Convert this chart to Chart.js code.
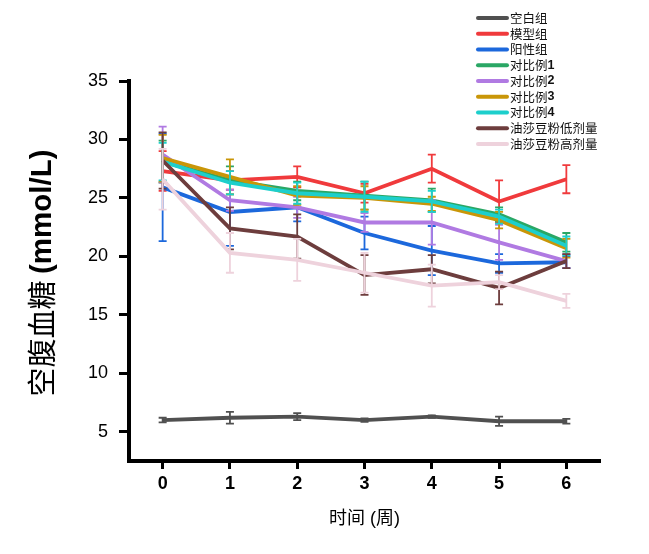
<!DOCTYPE html>
<html>
<head>
<meta charset="utf-8">
<script src="https://cdn.jsdelivr.net/npm/chart.js@4.4.1/dist/chart.umd.min.js"></script>
<style>
  html, body { margin: 0; padding: 0; background: #fff; }
  canvas { display: block; }
</style>
</head>
<body>
<canvas id="glucoseChart" width="649" height="554"></canvas>
<script>
// weeks and tick values
const weeks = [0, 1, 2, 3, 4, 5, 6];
const yTicks = [5, 10, 15, 20, 25, 30, 35];

const groupNames = ['空白组', '模型组', '阳性组', '对比例1', '对比例2', '对比例3', '对比例4', '油莎豆粉低剂量', '油莎豆粉高剂量'];
const groupColors = ['#505050', '#f03a3c', '#1c68dc', '#2aa765', '#b07ae2', '#c99608', '#1dcfcc', '#6d3d3d', '#eed2dc'];

// mean values per group (mmol/L)
const blank = [6.0, 6.2, 6.3, 6.0, 6.3, 5.9, 5.9];
const model = [27.3, 26.5, 26.8, 25.4, 27.5, 24.7, 26.6];
const positive = [25.9, 23.8, 24.2, 22.0, 20.5, 19.4, 19.5];
const comp1 = [28.1, 26.5, 25.6, 25.2, 24.8, 23.6, 21.2];
const comp2 = [28.7, 24.8, 24.2, 22.9, 22.9, 21.2, 19.6];
const comp3 = [28.4, 26.8, 25.2, 25.0, 24.5, 23.1, 20.7];
const comp4 = [28.1, 26.3, 25.4, 25.1, 24.7, 23.4, 20.9];
const lowDose = [28.2, 22.4, 21.7, 18.4, 18.9, 17.3, 19.6];
const highDose = [26.6, 20.3, 19.7, 18.6, 17.5, 17.8, 16.2];

// error bars (SD)
const blankErr = [0.2, 0.5, 0.3, 0.15, 0.1, 0.4, 0.2];
const modelErr = [1.7, 0.8, 0.9, 0.8, 1.2, 1.8, 1.2];
const positiveErr = [4.6, 2.9, 1.2, 1.4, 2.1, 0.8, 0.5];
const comp1Err = [1.8, 1.2, 0.8, 1.2, 1.0, 0.6, 0.8];
const comp2Err = [2.4, 0.9, 0.9, 0.8, 1.9, 1.5, 0.6];
const comp3Err = [2.0, 1.5, 0.8, 1.0, 0.6, 0.7, 0.8];
const comp4Err = [1.6, 1.0, 0.9, 1.3, 0.9, 0.6, 0.8];
const lowDoseErr = [2.4, 1.8, 1.9, 1.7, 1.2, 1.4, 0.6];
const highDoseErr = [2.6, 1.7, 1.8, 1.7, 1.8, 0.6, 0.6];

const allValues = [blank, model, positive, comp1, comp2, comp3, comp4, lowDose, highDose];
const allErrs = [blankErr, modelErr, positiveErr, comp1Err, comp2Err, comp3Err, comp4Err, lowDoseErr, highDoseErr];

const datasets = groupNames.map((name, i) => ({
    label: name,
    data: weeks.map((w, j) => ({ x: w, y: allValues[i][j] })),
    errorBars: allErrs[i],
    borderColor: groupColors[i],
    backgroundColor: groupColors[i],
    borderWidth: 3.8,
    pointRadius: 0,
    tension: 0,
    order: groupNames.length - i // later groups drawn on top
}));

// draws vertical error bars with caps for each dataset
const errorBarPlugin = {
    id: 'errorBars',
    afterDatasetDraw(chart, args) {
        const ds = chart.data.datasets[args.index];
        const errs = ds.errorBars;
        if (!errs) return;
        const { ctx, scales: { x, y } } = chart;
        ctx.save();
        ctx.strokeStyle = ds.borderColor;
        ctx.lineWidth = 1.8;
        ds.data.forEach((p, i) => {
            const px = x.getPixelForValue(p.x);
            const top = y.getPixelForValue(p.y + errs[i]);
            const bot = y.getPixelForValue(p.y - errs[i]);
            ctx.beginPath();
            ctx.moveTo(px, top); ctx.lineTo(px, bot);
            ctx.moveTo(px - 4, top); ctx.lineTo(px + 4, top);
            ctx.moveTo(px - 4, bot); ctx.lineTo(px + 4, bot);
            ctx.stroke();
        });
        ctx.restore();
    }
};

// legend in the top right and the mixed-font y axis title
const decorPlugin = {
    id: 'decor',
    afterDraw(chart) {
        const ctx = chart.ctx;
        ctx.save();
        chart.data.datasets.forEach((ds, i) => {
            const yy = 18 + i * 15.75;
            ctx.strokeStyle = ds.borderColor;
            ctx.lineWidth = 4;
            ctx.lineCap = 'round';
            ctx.beginPath();
            ctx.moveTo(478, yy);
            ctx.lineTo(507, yy);
            ctx.stroke();
            const m = ds.label.match(/^(\D*)(\d*)$/);
            ctx.fillStyle = '#111';
            ctx.textBaseline = 'middle';
            ctx.textAlign = 'left';
            ctx.font = '12.5px "Noto Sans CJK SC"';
            ctx.fillText(m[1], 510, yy);
            if (m[2]) {
                const w = ctx.measureText(m[1]).width;
                ctx.font = 'bold 12.5px "Liberation Sans"';
                ctx.fillText(m[2], 510 + w, yy);
            }
        });

        // y title
        const area = chart.chartArea;
        const cy = (area.top + area.bottom) / 2 + 2;
        const part1 = '空腹血糖 ';
        const part2 = '(mmol/L)';
        ctx.font = '29px "Noto Sans CJK SC"';
        const w1 = ctx.measureText(part1).width;
        ctx.font = 'bold 29.5px "Liberation Sans"';
        const w2 = ctx.measureText(part2).width;
        ctx.translate(42, cy);
        ctx.rotate(-Math.PI / 2);
        ctx.fillStyle = '#000';
        ctx.textBaseline = 'middle';
        ctx.textAlign = 'left';
        const start = -(w1 + w2) / 2;
        ctx.font = '29px "Noto Sans CJK SC"';
        ctx.fillText(part1, start, 0);
        ctx.font = 'bold 29.5px "Liberation Sans"';
        ctx.fillText(part2, start + w1, 1);
        ctx.restore();
    }
};

const ctx = document.getElementById('glucoseChart').getContext('2d');
new Chart(ctx, {
    type: 'line',
    data: { datasets: datasets },
    plugins: [errorBarPlugin, decorPlugin],
    options: {
        responsive: false,
        animation: false,
        layout: { padding: { left: 0, right: 49, top: 81, bottom: 0 } },
        plugins: {
            legend: { display: false },
            tooltip: { enabled: false }
        },
        scales: {
            x: {
                type: 'linear',
                min: -0.5,
                max: 6.5,
                afterBuildTicks: s => { s.ticks = weeks.map(v => ({ value: v })); },
                afterFit: s => { s.height = 93; },
                grid: { drawOnChartArea: false, drawTicks: true, tickLength: 8, tickWidth: 3, tickColor: '#000' },
                border: { display: true, width: 4, color: '#000' },
                ticks: { color: '#000', padding: 4, font: { family: 'Liberation Sans', size: 18, weight: 'bold' } },
                title: {
                    display: true,
                    text: '时间 (周)',
                    color: '#000',
                    padding: { top: 0, bottom: 24 },
                    font: { family: '"Liberation Sans", "Noto Sans CJK SC"', size: 18 }
                }
            },
            y: {
                type: 'linear',
                min: 2.5,
                max: 35,
                afterBuildTicks: s => { s.ticks = yTicks.map(v => ({ value: v })); },
                afterFit: s => { s.width = 129; },
                grid: { drawOnChartArea: false, drawTicks: true, tickLength: 10, tickWidth: 3, tickColor: '#000' },
                border: { display: true, width: 4, color: '#000' },
                ticks: { color: '#000', padding: 11, font: { family: 'Liberation Sans', size: 18 } }
            }
        }
    }
});
</script>
</body>
</html>
